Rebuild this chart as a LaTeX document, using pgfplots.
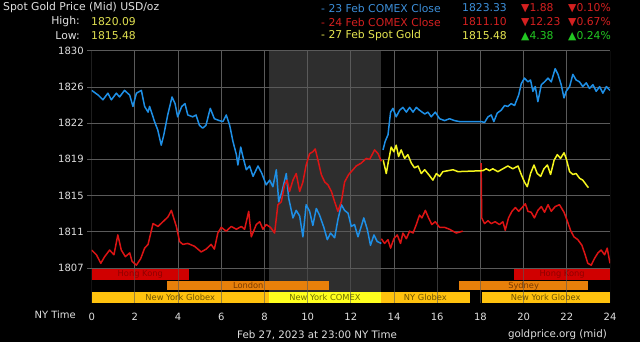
\documentclass[border=0pt]{standalone}
\usepackage{fontspec}
\setmainfont{DejaVu Sans}
\usepackage{pgfplots}
\pgfplotsset{compat=1.18}
\definecolor{gridgray}{HTML}{5A5A5A}
\definecolor{shadegray}{HTML}{2E2E2E}
\definecolor{lblue}{HTML}{1E8FE6}
\definecolor{lred}{HTML}{DC1414}
\definecolor{lyellow}{HTML}{F5F51E}
\definecolor{txtgray}{HTML}{E0E0E0}
\definecolor{hiyel}{HTML}{E0E050}
\definecolor{legblue}{HTML}{3C8ED8}
\definecolor{legred}{HTML}{D42020}
\definecolor{legyel}{HTML}{E6E650}
\definecolor{upgreen}{HTML}{22C822}
\definecolor{hkred}{HTML}{D00000}
\definecolor{hktxt}{HTML}{8E0000}
\definecolor{lonor}{HTML}{E8800A}
\definecolor{lontxt}{HTML}{7A3A00}
\definecolor{nygold}{HTML}{FFC20E}
\definecolor{nytxt}{HTML}{6E5200}
\definecolor{comexy}{HTML}{FFFF1E}
\definecolor{comextxt}{HTML}{707000}
\newcommand{\hdr}{\fontsize{10.8bp}{13bp}\selectfont}
\newcommand{\barf}{\fontsize{8.3bp}{10bp}\selectfont}
\begin{document}
\begin{tikzpicture}
\fill[black] (0,0) rectangle (640bp,342bp);
\begin{axis}[
  at={(91.7bp,39bp)}, anchor=south west,
  scale only axis, width=518.3bp, height=252.3bp,
  xmin=0, xmax=24, ymin=1803.296, ymax=1830,
  axis line style={draw=none},
  xtick={0,2,...,24},
  xticklabels={0,2,4,6,8,10,12,14,16,18,20,22,24},
  ytick={1807,1810.8333,1814.6667,1818.5,1822.3333,1826.1667,1830},
  yticklabels={1807,1811,1815,1819,1822,1826,1830},
  xtick style={draw=none},
  ytick style={gridgray, line width=0.8bp},
  major tick length=4.5bp,
  tick align=outside,
  xtick pos=bottom, ytick pos=left,
  ticklabel style={font=\fontsize{10bp}{12bp}\selectfont, text=txtgray},
  xticklabel style={yshift=-2bp},
  /pgf/number format/assume math mode=true,
]
% session shading and bars
\fill[shadegray] (axis cs:8.2,1803.296) rectangle (axis cs:13.4,1830);
\fill[hkred] (axis cs:0,1805.7) rectangle (axis cs:4.5,1807);
\fill[hkred] (axis cs:19.55,1805.7) rectangle (axis cs:24,1807);
\fill[lonor] (axis cs:3.5,1804.62) rectangle (axis cs:11,1805.6);
\fill[lonor] (axis cs:17,1804.62) rectangle (axis cs:23,1805.6);
\fill[nygold] (axis cs:0,1803.296) rectangle (axis cs:8.2,1804.5);
\fill[comexy] (axis cs:8.2,1803.296) rectangle (axis cs:13.4,1804.5);
\fill[nygold] (axis cs:13.4,1803.296) rectangle (axis cs:17.5,1804.5);
\fill[nygold] (axis cs:18.05,1803.296) rectangle (axis cs:24,1804.5);
\node[text=hktxt, font=\barf] at (axis cs:2.25,1806.35) {Hong Kong};
\node[text=hktxt, font=\barf] at (axis cs:21.78,1806.35) {Hong Kong};
\node[text=lontxt, font=\barf] at (axis cs:7.25,1805.11) {London};
\node[text=lontxt, font=\barf] at (axis cs:20,1805.11) {Sydney};
\node[text=nytxt, font=\barf] at (axis cs:4.1,1803.9) {New York Globex};
\node[text=comextxt, font=\barf] at (axis cs:10.8,1803.9) {New York COMEX};
\node[text=nytxt, font=\barf] at (axis cs:15.45,1803.9) {NY Globex};
\node[text=nytxt, font=\barf] at (axis cs:21.02,1803.9) {New York Globex};
% grid
\foreach \gx in {0,2,...,24} {
  \edef\tmp{\noexpand\draw[gridgray, line width=0.8bp, opacity=0.6] (axis cs:\gx,1803.296) -- (axis cs:\gx,1807);}\tmp
  \edef\tmp{\noexpand\draw[gridgray, line width=0.8bp] (axis cs:\gx,1807) -- (axis cs:\gx,1830);}\tmp
}
\foreach \gy in {1807,1810.8333,1814.6667,1818.5,1822.3333,1826.1667,1830} {
  \edef\tmp{\noexpand\draw[gridgray, line width=0.8bp] (axis cs:0,\gy) -- (axis cs:24,\gy);}\tmp
}
% 23 Feb COMEX close (blue)
\addplot[lblue, line width=1.5bp, line join=round] coordinates {
(0,1825.8)(0.3,1825.3)(0.52,1824.8)(0.75,1825.5)(0.91,1824.8)(1.14,1825.5)(1.29,1825.1)(1.52,1825.8)(1.76,1825.3)(1.91,1824.1)(2.07,1825.5)(2.3,1825.8)(2.45,1824.1)(2.61,1823.5)(2.68,1824.1)(2.91,1822.5)(3.06,1821.6)(3.22,1820.0)(3.34,1821.1)(3.52,1823.2)(3.72,1825.1)(3.86,1824.4)(3.98,1823.0)(4.17,1824.1)(4.32,1824.4)(4.45,1823.2)(4.68,1823.0)(4.83,1823.2)(4.99,1822.1)(5.14,1821.8)(5.29,1822.1)(5.49,1823.9)(5.68,1822.8)(5.91,1822.6)(6.08,1822.5)(6.23,1823.2)(6.39,1822.1)(6.54,1820.4)(6.7,1819.0)(6.77,1817.9)(6.9,1819.8)(7.0,1818.8)(7.16,1817.4)(7.31,1817.8)(7.47,1816.7)(7.7,1817.8)(7.88,1817.0)(8.08,1815.8)(8.24,1816.3)(8.39,1815.6)(8.55,1817.4)(8.66,1814.0)(8.81,1815.1)(9.01,1817.0)(9.12,1814.4)(9.32,1812.3)(9.47,1813.1)(9.63,1812.5)(9.78,1810.3)(9.93,1813.7)(10.09,1813.0)(10.24,1811.5)(10.4,1813.3)(10.55,1812.6)(10.75,1811.3)(10.91,1810.0)(11.06,1810.7)(11.25,1810.2)(11.4,1812.1)(11.56,1813.7)(11.71,1813.1)(11.87,1812.8)(12.02,1811.4)(12.17,1811.6)(12.33,1810.3)(12.48,1811.4)(12.6,1812.3)(12.76,1811.1)(12.91,1809.4)(13.07,1810.5)(13.22,1809.8)(13.41,1809.6)
};
\addplot[lblue, line width=1.5bp, line join=round] coordinates {
(13.49,1819.5)(13.59,1820.4)(13.72,1821.1)(13.84,1823.5)(13.95,1823.9)(14.1,1823.0)(14.26,1823.7)(14.41,1824.0)(14.57,1823.5)(14.72,1824.0)(14.88,1823.5)(15.03,1824.0)(15.18,1823.7)(15.42,1823.3)(15.57,1823.5)(15.72,1823.0)(15.91,1823.5)(16.11,1822.8)(16.34,1822.6)(16.57,1822.8)(16.8,1822.6)(17.03,1822.5)(18.04,1822.5)(18.19,1822.4)(18.35,1823.0)(18.5,1823.2)(18.62,1822.5)(18.78,1823.4)(18.96,1823.7)(19.12,1824.2)(19.27,1824.1)(19.42,1824.4)(19.58,1824.2)(19.77,1825.3)(19.89,1826.5)(20.04,1827.1)(20.2,1826.7)(20.32,1826.9)(20.43,1825.7)(20.54,1826.2)(20.66,1824.6)(20.82,1826.4)(20.97,1826.7)(21.13,1827.1)(21.28,1826.7)(21.46,1828.1)(21.59,1827.5)(21.74,1826.4)(21.87,1825.0)(21.97,1825.7)(22.13,1826.2)(22.28,1827.5)(22.43,1826.9)(22.59,1826.7)(22.74,1826.2)(22.9,1826.6)(23.05,1826.0)(23.21,1826.4)(23.36,1825.7)(23.52,1826.2)(23.67,1825.5)(23.83,1826.2)(24.0,1825.8)
};
% 24 Feb COMEX close (red)
\addplot[lred, line width=1.5bp, line join=round] coordinates {
(0,1808.9)(0.22,1808.4)(0.42,1807.5)(0.6,1808.2)(0.83,1808.9)(1.03,1808.4)(1.21,1810.5)(1.37,1808.9)(1.56,1808.2)(1.76,1808.6)(1.87,1807.7)(2.07,1807.3)(2.27,1808.0)(2.45,1809.1)(2.61,1809.5)(2.84,1811.7)(3.07,1811.4)(3.3,1811.9)(3.53,1812.4)(3.69,1813.1)(3.81,1812.2)(3.92,1811.4)(4.07,1809.8)(4.22,1809.5)(4.45,1809.6)(4.76,1809.3)(5.07,1808.7)(5.3,1809.0)(5.53,1809.5)(5.68,1809.0)(5.84,1810.7)(6.0,1811.3)(6.23,1810.9)(6.46,1811.4)(6.7,1811.1)(6.93,1811.4)(7.08,1811.1)(7.27,1813.0)(7.39,1810.3)(7.62,1811.6)(7.78,1811.9)(7.93,1811.1)(8.08,1811.6)(8.28,1811.3)(8.47,1810.7)(8.62,1813.7)(8.78,1814.0)(8.93,1815.8)(9.05,1816.3)(9.16,1815.1)(9.32,1816.3)(9.47,1817.0)(9.63,1815.1)(9.78,1816.1)(9.93,1817.9)(10.09,1819.1)(10.24,1819.3)(10.35,1819.6)(10.48,1818.4)(10.63,1816.9)(10.79,1816.1)(10.94,1815.8)(11.1,1815.1)(11.25,1814.0)(11.4,1813.0)(11.56,1814.0)(11.71,1816.1)(11.9,1816.9)(12.02,1817.2)(12.25,1817.8)(12.48,1818.1)(12.71,1818.6)(12.87,1818.5)(13.1,1819.5)(13.26,1819.1)(13.41,1818.3)
};
\addplot[lred, line width=1.5bp, line join=round] coordinates {
(13.41,1810.1)(13.56,1809.6)(13.72,1810.0)(13.84,1809.1)(13.99,1810.1)(14.15,1810.5)(14.3,1809.6)(14.41,1810.7)(14.57,1810.1)(14.72,1810.9)(14.88,1810.7)(15.03,1811.6)(15.18,1812.6)(15.29,1812.3)(15.45,1813.1)(15.6,1812.3)(15.75,1811.6)(15.91,1811.9)(16.11,1811.3)(16.34,1811.3)(16.57,1811.1)(16.88,1810.7)(17.18,1810.9)
};
\addplot[lred, line width=1.5bp, line join=round] coordinates {
(18.03,1818.1)(18.06,1812.3)(18.19,1811.7)(18.35,1812.0)(18.5,1811.7)(18.68,1811.9)(18.88,1811.6)(19.04,1811.9)(19.15,1811.0)(19.3,1812.3)(19.46,1813.0)(19.62,1813.4)(19.77,1813.0)(19.93,1813.4)(20.08,1813.8)(20.2,1813.0)(20.35,1812.9)(20.5,1812.3)(20.66,1813.1)(20.82,1813.5)(20.97,1812.9)(21.13,1813.7)(21.28,1813.0)(21.46,1813.5)(21.66,1813.7)(21.87,1812.9)(22.02,1812.0)(22.17,1811.0)(22.33,1810.3)(22.51,1810.0)(22.7,1809.4)(22.85,1808.4)(22.97,1807.5)(23.13,1807.3)(23.28,1808.0)(23.44,1808.6)(23.59,1808.9)(23.75,1808.4)(23.87,1809.1)(24.0,1807.5)
};
% 27 Feb spot gold (yellow)
\addplot[lyellow, line width=1.5bp, line join=round] coordinates {
(13.5,1818.4)(13.64,1817.0)(13.74,1818.3)(13.87,1819.8)(13.99,1819.3)(14.1,1820.0)(14.21,1818.8)(14.33,1819.5)(14.49,1818.6)(14.64,1819.0)(14.8,1818.1)(14.95,1817.6)(15.11,1817.8)(15.26,1817.0)(15.42,1817.4)(15.6,1816.9)(15.8,1816.3)(15.96,1817.0)(16.11,1816.7)(16.26,1817.2)(16.5,1817.3)(16.73,1817.4)(16.96,1817.2)(18.11,1817.3)(18.27,1817.5)(18.42,1817.3)(18.57,1817.5)(18.81,1817.2)(19.04,1817.5)(19.27,1817.8)(19.5,1817.5)(19.74,1817.8)(19.89,1816.9)(20.04,1816.1)(20.17,1815.6)(20.32,1817.0)(20.48,1817.9)(20.63,1817.0)(20.79,1816.7)(20.94,1817.5)(21.1,1817.9)(21.25,1816.9)(21.41,1818.4)(21.56,1819.0)(21.71,1818.6)(21.87,1819.2)(21.97,1818.6)(22.13,1817.2)(22.28,1816.9)(22.43,1817.0)(22.59,1816.5)(22.74,1816.3)(22.9,1815.8)(23.0,1815.5)
};
\end{axis}
% header
\node[anchor=west, text=txtgray, font=\hdr, inner sep=0] at (3bp,334bp) {Spot Gold Price (Mid) USD/oz};
\node[anchor=east, text=txtgray, font=\hdr, inner sep=0] at (80bp,320bp) {High:};
\node[anchor=west, text=hiyel, font=\hdr, inner sep=0] at (91bp,320bp) {1820.09};
\node[anchor=east, text=txtgray, font=\hdr, inner sep=0] at (80bp,306bp) {Low:};
\node[anchor=west, text=hiyel, font=\hdr, inner sep=0] at (91bp,306bp) {1815.48};
\node[anchor=west, text=legblue, font=\hdr, inner sep=0] at (321bp,334bp) {- 23 Feb COMEX Close};
\node[anchor=east, text=legblue, font=\hdr, inner sep=0] at (507bp,334bp) {1823.33};
\node[anchor=west, text=legred, font=\hdr, inner sep=0] at (521bp,334bp) {▼1.88};
\node[anchor=west, text=legred, font=\hdr, inner sep=0] at (568bp,334bp) {▼0.10\%};
\node[anchor=west, text=legred, font=\hdr, inner sep=0] at (321bp,320bp) {- 24 Feb COMEX Close};
\node[anchor=east, text=legred, font=\hdr, inner sep=0] at (507bp,320bp) {1811.10};
\node[anchor=west, text=legred, font=\hdr, inner sep=0] at (521bp,320bp) {▼12.23};
\node[anchor=west, text=legred, font=\hdr, inner sep=0] at (568bp,320bp) {▼0.67\%};
\node[anchor=west, text=legyel, font=\hdr, inner sep=0] at (321bp,306bp) {- 27 Feb Spot Gold};
\node[anchor=east, text=legyel, font=\hdr, inner sep=0] at (507bp,306bp) {1815.48};
\node[anchor=west, text=upgreen, font=\hdr, inner sep=0] at (521bp,306bp) {▲4.38};
\node[anchor=west, text=upgreen, font=\hdr, inner sep=0] at (568bp,306bp) {▲0.24\%};
% footer
\node[anchor=east, text=txtgray, font=\fontsize{10bp}{12bp}\selectfont, inner sep=0] at (76bp,27bp) {NY Time};
\node[anchor=west, text=txtgray, font=\fontsize{10.3bp}{12bp}\selectfont, inner sep=0] at (237bp,7bp) {Feb 27, 2023 at 23:00 NY Time};
\node[anchor=east, text=txtgray, font=\fontsize{10.3bp}{12bp}\selectfont, inner sep=0] at (607bp,7bp) {goldprice.org (mid)};
\end{tikzpicture}
\end{document}
